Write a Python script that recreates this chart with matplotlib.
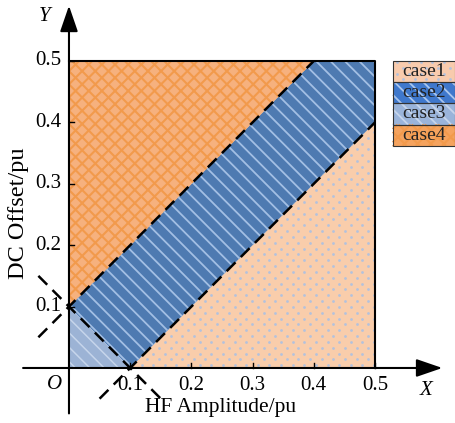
import numpy as np
import matplotlib
matplotlib.use("Agg")
import matplotlib.pyplot as plt
from matplotlib.patches import Polygon, Rectangle

plt.rcParams["font.family"] = ["Liberation Serif", "DejaVu Serif"]

# region boundaries (pu)
lim = 0.5
band = 0.1
cases = ["case1", "case2", "case3", "case4"]
fills = {"case1": "#F9CDAB", "case2": "#4E7AB1", "case3": "#9CB3D5", "case4": "#F6B17E"}
legend_fills = {"case1": "#F8CBAD", "case2": "#3F78CC", "case3": "#9AB4DA", "case4": "#F5A35E"}
hatch_cols = {"case1": "#B3C2DD", "case2": "#A3BFE4", "case3": "#C6D5EB", "case4": "#F29A4C"}
ticks = [0.1, 0.2, 0.3, 0.4, 0.5]

regions = {
    "case1": [(band, 0), (lim, 0), (lim, lim - band)],
    "case2": [(0, band), (band, 0), (lim, lim - band), (lim, lim), (lim - band, lim)],
    "case3": [(0, 0), (band, 0), (0, band)],
    "case4": [(0, band), (0, lim), (lim - band, lim)],
}

fig = plt.figure(figsize=(4.55, 4.23), dpi=100)
ax = fig.add_axes([0, 0, 1, 1])
ax.set_xlim(-0.1127, 0.6307)
ax.set_ylim(-0.0896, 0.5993)
ax.axis("off")


def stripes(patch, slope, step, color, lw):
    # hand-made hatch: parallel lines clipped to the patch
    for c0 in np.arange(-1.0, 1.5, step):
        xs = np.array([-0.2, 0.8])
        ln, = ax.plot(xs, slope * xs + c0, color=color, lw=lw, zorder=1.1)
        ln.set_clip_path(patch)


def dots(patch, step, color, size):
    gx, gy = np.meshgrid(np.arange(-0.1, 0.7, step), np.arange(-0.1, 0.7, step / 2))
    gx = gx + (np.arange(gx.shape[0])[:, None] % 2) * step / 2
    sc = ax.scatter(gx.ravel(), gy.ravel(), s=size, color=color, lw=0, zorder=1.1)
    sc.set_clip_path(patch)


def box_stripes(x0, x1, y0, y1, slope, step, color, lw):
    # same hatch for a legend box, cut to the box by hand
    for c0 in np.arange(-1.0, 1.5, step):
        xa, xb = (y0 - c0) / slope, (y1 - c0) / slope
        lo, hi = max(x0, min(xa, xb)), min(x1, max(xa, xb))
        if lo < hi:
            ax.plot([lo, hi], [slope * lo + c0, slope * hi + c0], color=color, lw=lw, zorder=2.1,
                    solid_capstyle="butt")


def box_dots(x0, x1, y0, y1, step, color, size):
    gx, gy = np.meshgrid(np.arange(-0.1, 0.7, step), np.arange(-0.1, 0.7, step / 2))
    gx = (gx + (np.arange(gx.shape[0])[:, None] % 2) * step / 2).ravel()
    gy = gy.ravel()
    keep = (gx > x0) & (gx < x1) & (gy > y0) & (gy < y1)
    ax.scatter(gx[keep], gy[keep], s=size, color=color, lw=0, zorder=2.1)


for c in cases:
    p = Polygon(regions[c], closed=True, facecolor=fills[c], lw=0, zorder=1)
    ax.add_patch(p)
    if c == "case1":
        dots(p, 0.019, hatch_cols[c], 4)
    elif c == "case4":
        stripes(p, 1, 0.0215, hatch_cols[c], 1.5)
        stripes(p, -1, 0.0215, hatch_cols[c], 1.5)
    else:
        stripes(p, -1, 0.0235, hatch_cols[c], 1.3 if c == "case2" else 1.1)

# box
ax.plot([0, lim, lim], [lim, lim, 0], color="black", lw=1.5, zorder=3)

# dashed boundaries
e = 0.05
for xs, ys in [([-e, lim - band], [band - e, lim]),
               ([band - e, lim], [-e, lim - band]),
               ([-e, band + e], [band + e, -e])]:
    ax.plot(xs, ys, color="black", lw=1.8, dashes=(5, 3), zorder=4)

# axes with arrows
arrow = dict(arrowstyle="-|>,head_length=1.6,head_width=0.55", color="black", lw=1.5, shrinkA=0, shrinkB=0)
ax.annotate("", xy=(0.61, 0), xytext=(-0.075, 0), arrowprops=arrow, zorder=5)
ax.annotate("", xy=(0, 0.59), xytext=(0, -0.074), arrowprops=arrow, zorder=5)

for t in ticks:
    ax.plot([t, t], [0, 0.008], color="black", lw=1, zorder=5)
    ax.plot([0, 0.008], [t, t], color="black", lw=1, zorder=5)
    ax.text(t, -0.029, f"{t:.1f}", ha="center", va="center", fontsize=15)
    ax.text(-0.013, t, f"{t:.1f}", ha="right", va="center", fontsize=15)

ax.text(-0.023, -0.027, "O", ha="center", va="center", fontsize=15, style="italic")
ax.text(0.584, -0.036, "X", ha="center", va="center", fontsize=15, style="italic")
ax.text(-0.04, 0.573, "Y", ha="center", va="center", fontsize=15, style="italic")
ax.text(0.248, -0.065, "HF Amplitude/pu", ha="center", va="center", fontsize=15.5)
ax.text(-0.083, 0.252, "DC Offset/pu", ha="center", va="center", fontsize=17.5, rotation=90)

# legend as stacked boxes just right of the plot box
lx, lw_, lh = 0.529, 0.102, 0.0345
ly = 0.5
for i, c in enumerate(cases):
    y0 = ly - (i + 1) * lh
    x1, y1 = lx + lw_, y0 + lh
    ax.add_patch(Rectangle((lx, y0), lw_, lh, facecolor=legend_fills[c], lw=0, zorder=2))
    if c == "case1":
        box_dots(lx, x1, y0, y1, 0.019, hatch_cols[c], 4)
    elif c == "case4":
        box_stripes(lx, x1, y0, y1, 1, 0.0215, hatch_cols[c], 1.5)
        box_stripes(lx, x1, y0, y1, -1, 0.0215, hatch_cols[c], 1.5)
    else:
        box_stripes(lx, x1, y0, y1, -1, 0.0235, "#A9C6EE" if c == "case2" else hatch_cols[c], 1.3)
    ax.add_patch(Rectangle((lx, y0), lw_, lh, facecolor="none", edgecolor="#333333", lw=0.8, zorder=3))
    ax.text(lx + lw_ / 2, y0 + lh / 2, c, ha="center", va="center",
            fontsize=14, color="#222222", zorder=4)

fig.savefig("out.png", dpi=100)
print("done")
